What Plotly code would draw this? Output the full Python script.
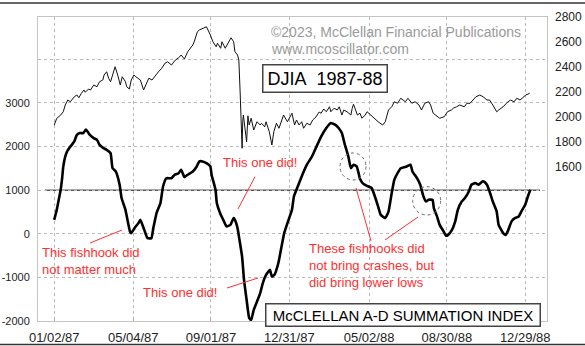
import plotly.graph_objects as go

# ---------------- data ----------------
djia_dates = [
    "1987-01-02", "1987-01-06", "1987-01-12", "1987-01-16", "1987-01-19", "1987-01-23", "1987-01-27",
    "1987-02-02", "1987-02-06", "1987-02-09", "1987-02-13", "1987-02-17", "1987-02-19", "1987-02-24",
    "1987-02-27", "1987-03-04", "1987-03-09", "1987-03-13", "1987-03-18", "1987-03-20", "1987-03-24",
    "1987-03-27", "1987-03-30", "1987-04-03", "1987-04-06", "1987-04-10", "1987-04-14", "1987-04-17",
    "1987-04-22", "1987-04-24", "1987-04-28", "1987-05-01", "1987-05-05", "1987-05-08", "1987-05-15",
    "1987-05-20", "1987-05-26", "1987-05-28", "1987-06-02", "1987-06-08", "1987-06-12", "1987-06-17",
    "1987-06-22", "1987-06-26", "1987-07-02", "1987-07-08", "1987-07-13", "1987-07-17", "1987-07-22",
    "1987-07-27", "1987-07-31", "1987-08-04", "1987-08-07", "1987-08-11", "1987-08-14", "1987-08-20",
    "1987-08-25", "1987-08-31", "1987-09-04", "1987-09-09", "1987-09-11", "1987-09-16", "1987-09-18",
    "1987-09-23", "1987-09-28", "1987-10-02", "1987-10-06", "1987-10-08", "1987-10-12", "1987-10-14",
    "1987-10-16", "1987-10-19", "1987-10-20", "1987-10-21", "1987-10-26", "1987-10-28", "1987-10-30",
    "1987-11-02", "1987-11-06", "1987-11-11", "1987-11-16", "1987-11-18", "1987-11-23", "1987-11-25",
    "1987-11-30", "1987-12-02", "1987-12-04", "1987-12-07", "1987-12-11", "1987-12-15", "1987-12-18",
    "1987-12-22", "1987-12-28", "1987-12-31",
    "1988-01-04", "1988-01-08", "1988-01-11", "1988-01-15", "1988-01-19", "1988-01-22", "1988-01-27",
    "1988-02-01", "1988-02-05", "1988-02-10", "1988-02-15", "1988-02-18", "1988-02-22", "1988-02-26",
    "1988-03-02", "1988-03-04", "1988-03-09", "1988-03-14", "1988-03-17", "1988-03-21", "1988-03-24",
    "1988-03-29", "1988-04-04", "1988-04-06", "1988-04-08", "1988-04-14", "1988-04-18", "1988-04-21",
    "1988-04-26", "1988-04-29", "1988-05-04", "1988-05-09", "1988-05-13", "1988-05-16", "1988-05-23",
    "1988-05-27", "1988-06-01", "1988-06-06", "1988-06-10", "1988-06-15", "1988-06-20", "1988-06-27",
    "1988-07-01", "1988-07-07", "1988-07-12", "1988-07-18", "1988-07-22", "1988-07-27", "1988-08-02",
    "1988-08-05", "1988-08-09", "1988-08-12", "1988-08-19", "1988-08-26", "1988-08-31", "1988-09-06",
    "1988-09-09", "1988-09-14", "1988-09-19", "1988-09-26", "1988-09-30", "1988-10-05", "1988-10-10",
    "1988-10-14", "1988-10-20", "1988-10-25", "1988-10-31", "1988-11-04", "1988-11-09", "1988-11-15",
    "1988-11-18", "1988-11-25", "1988-11-30", "1988-12-06", "1988-12-12", "1988-12-16", "1988-12-21",
    "1988-12-27", "1988-12-30", "1989-01-05",
]
djia_values = [
    1935, 1990, 2016, 2042, 2096, 2136, 2122,
    2162, 2176, 2154, 2190, 2216, 2198, 2224,
    2216, 2256, 2242, 2282, 2296, 2336, 2362,
    2310, 2282, 2362, 2402, 2336, 2256, 2322,
    2282, 2242, 2224, 2296, 2336, 2322, 2296,
    2216, 2282, 2310, 2296, 2342, 2362, 2390,
    2430, 2442, 2416, 2456, 2474, 2496, 2464,
    2522, 2550, 2576, 2616, 2682, 2696, 2710,
    2722, 2656, 2602, 2562, 2590, 2550, 2602,
    2550, 2602, 2634, 2602, 2522, 2496, 2456,
    2200, 1750, 1962, 2016, 1802, 2010, 1936,
    1990, 1896, 1962, 1936, 1950, 1922, 1962,
    1882, 1830, 1776, 1882, 1950, 1910, 1962,
    2016, 1962, 1990,
    2030, 1936, 1976, 1936, 1962, 1910, 1950,
    1936, 1976, 2000, 2040, 2030, 2064, 2042,
    2082, 2042, 2070, 2056, 2082, 2016, 2056,
    2042, 2016, 2070, 2102, 2016, 2030, 1990,
    2016, 2042, 2016, 1990, 1976, 1962, 1936,
    1962, 2056, 2082, 2122, 2110, 2150, 2122,
    2150, 2110, 2122, 2096, 2056, 2110, 2122,
    2096, 2030, 2016, 1990, 2002, 2042, 2056,
    2070, 2082, 2096, 2082, 2110, 2110, 2136,
    2162, 2176, 2162, 2136, 2136, 2096, 2042,
    2056, 2082, 2110, 2136, 2122, 2150, 2136,
    2162, 2176, 2190,
]

si_dates = [
    "1987-01-02", "1987-01-06", "1987-01-09", "1987-01-12", "1987-01-14", "1987-01-16", "1987-01-19",
    "1987-01-22", "1987-01-27", "1987-02-02", "1987-02-06", "1987-02-11", "1987-02-16", "1987-02-20",
    "1987-02-26", "1987-03-04", "1987-03-09", "1987-03-13", "1987-03-19", "1987-03-24", "1987-03-30",
    "1987-04-02", "1987-04-07", "1987-04-13", "1987-04-16", "1987-04-22", "1987-04-24", "1987-04-29",
    "1987-05-01", "1987-05-06", "1987-05-12", "1987-05-15", "1987-05-21", "1987-05-26", "1987-06-01",
    "1987-06-04", "1987-06-09", "1987-06-15", "1987-06-19", "1987-06-24", "1987-07-02", "1987-07-07",
    "1987-07-13", "1987-07-17", "1987-07-22", "1987-07-27", "1987-08-04", "1987-08-10", "1987-08-14",
    "1987-08-19", "1987-08-25", "1987-08-31", "1987-09-02", "1987-09-08", "1987-09-10", "1987-09-15",
    "1987-09-21", "1987-09-25", "1987-10-01", "1987-10-06", "1987-10-08", "1987-10-12", "1987-10-15",
    "1987-10-19", "1987-10-22", "1987-10-26", "1987-10-30", "1987-11-02", "1987-11-06", "1987-11-11",
    "1987-11-16", "1987-11-20", "1987-11-25", "1987-12-01", "1987-12-04", "1987-12-08", "1987-12-14",
    "1987-12-18", "1987-12-23", "1987-12-28",
    "1988-01-04", "1988-01-07", "1988-01-12", "1988-01-19", "1988-01-27", "1988-02-04", "1988-02-11",
    "1988-02-18", "1988-02-26", "1988-03-04", "1988-03-11", "1988-03-16", "1988-03-21", "1988-03-25",
    "1988-03-31", "1988-04-04", "1988-04-08", "1988-04-13", "1988-04-18", "1988-04-22", "1988-04-28",
    "1988-05-06", "1988-05-11", "1988-05-16", "1988-05-20", "1988-05-27", "1988-06-01", "1988-06-06",
    "1988-06-10", "1988-06-15", "1988-06-20", "1988-06-29", "1988-07-05", "1988-07-08", "1988-07-15",
    "1988-07-20", "1988-07-25", "1988-07-29", "1988-08-02", "1988-08-08", "1988-08-10", "1988-08-15",
    "1988-08-19", "1988-08-25", "1988-08-29", "1988-09-01", "1988-09-07", "1988-09-12", "1988-09-16",
    "1988-09-22", "1988-09-27", "1988-10-03", "1988-10-07", "1988-10-13", "1988-10-18", "1988-10-24",
    "1988-10-26", "1988-10-31", "1988-11-04", "1988-11-09", "1988-11-15", "1988-11-18", "1988-11-25",
    "1988-11-29", "1988-12-02", "1988-12-08", "1988-12-13", "1988-12-19", "1988-12-23", "1988-12-29",
    "1989-01-03", "1989-01-06",
]
si_values = [
    320, 550, 780, 1010, 1240, 1540, 1770,
    1890, 2000, 2120, 2270, 2310, 2310, 2390,
    2270, 2195, 2155, 2040, 1965, 1925, 1850,
    1510, 1430, 1125, 820, 550, 400, 50,
    15, 130, 245, 320, 90, -100, -100,
    130, 475, 705, 1085, 1275, 1275, 1355,
    1390, 1470, 1300, 1355, 1430, 1545, 1660,
    1660, 1620, 1545, 1350, 1010, 705, 475,
    285, 170, 205, 360, 320, 130, -140,
    -520, -1055, -1515, -1935, -1975, -1745, -1555,
    -1360, -1130, -940, -825, -980, -940, -670,
    -365, 15, 245,
    550, 855, 1050, 1315, 1585, 1775, 2005,
    2230, 2425, 2540, 2500, 2425, 2310, 2080,
    1775, 1505, 1585, 1545, 1260, 1163, 1105,
    1050, 855, 625, 435, 360, 510, 935,
    1240, 1390, 1505, 1545, 1585, 1430, 1275,
    1125, 855, 740, 780, 780, 590, 395,
    205, 55, -45, -25, 90, 285, 550,
    740, 820, 970, 1125, 1165, 1125, 1200,
    1200, 1125, 970, 740, 510, 205, 15,
    -25, 55, 285, 360, 395, 510, 665,
    895, 1010,
]

tick_dates = ["1987-01-02", "1987-05-04", "1987-09-01", "1987-12-31",
              "1988-05-02", "1988-08-30", "1988-12-29"]
tick_labels = ["01/02/87", "05/04/87", "09/01/87", "12/31/87",
               "05/02/88", "08/30/88", "12/29/88"]
si_ticks = [-2000, -1000, 0, 1000, 2000, 3000, 4000]
si_tick_labels = ["-2000", "-1000", "0", "1000", "2000", "3000", ""]
djia_ticks = [1600, 1800, 2000, 2200, 2400, 2600, 2800]

# ---------------- layout helpers ----------------
W, H = 585, 346
ML, MR, MT, MB = 38, 38, 17, 25
PW, PH = W - ML - MR, H - MT - MB
FONT = "Liberation Sans, Arial, sans-serif"
RED = "#ff3030"


def px(x):
    return (x - ML) / PW


def py(y):
    return (H - MB - y) / PH


fig = go.Figure()

fig.add_trace(go.Scatter(
    x=djia_dates, y=djia_values, yaxis="y2", mode="lines",
    line=dict(color="#111111", width=1), hoverinfo="skip", showlegend=False,
))
fig.add_trace(go.Scatter(
    x=si_dates, y=si_values, yaxis="y", mode="lines",
    line=dict(color="#000000", width=2.6, shape="spline", smoothing=0.4),
    hoverinfo="skip", showlegend=False,
))

shapes = []
# reference line at 1000 on the summation index
shapes.append(dict(type="line", xref="paper", yref="y", x0=px(45), x1=px(540),
                   y0=1000, y1=1000, line=dict(color="#555555", width=1.5), layer="below"))
# outer frame lines
shapes.append(dict(type="line", xref="paper", yref="paper", x0=px(0), x1=px(W),
                   y0=py(3), y1=py(3), line=dict(color="#333333", width=1.5)))
shapes.append(dict(type="line", xref="paper", yref="paper", x0=px(0), x1=px(W),
                   y0=py(344.5), y1=py(344.5), line=dict(color="#333333", width=1.5)))
# red pointer lines
for (x0, y0, x1, y1) in [(238, 209, 255, 176.7), (90, 243, 122, 230), (227, 288, 258, 278),
                         (356, 188, 371, 241), (385, 240, 418, 217)]:
    shapes.append(dict(type="line", xref="paper", yref="paper",
                       x0=px(x0), y0=py(y0), x1=px(x1), y1=py(y1),
                       line=dict(color=RED, width=1)))
# dotted circles around the fishhooks
for (x0, y0, x1, y1) in [(340, 153, 366, 180), (412.7, 186.7, 440.7, 215)]:
    shapes.append(dict(type="circle", xref="paper", yref="paper",
                       x0=px(x0), y0=py(y1), x1=px(x1), y1=py(y0),
                       line=dict(color="#666666", width=1, dash="dot")))

annotations = [
    dict(text="©2023, McClellan Financial Publications", x=px(269), y=py(32),
         xanchor="left", yanchor="middle", font=dict(size=14, color="#9a9a9a", family=FONT)),
    dict(text="www.mcoscillator.com", x=px(269), y=py(49),
         xanchor="left", yanchor="middle", font=dict(size=14, color="#9a9a9a", family=FONT)),
    dict(text="DJIA\u00a0\u00a01987-88", x=px(324.5), y=py(78), xanchor="center", yanchor="middle",
         width=121, height=24, bgcolor="white", bordercolor="#444444", borderwidth=1.5, borderpad=1,
         font=dict(size=18, color="#000000", family=FONT)),
    dict(text="McCLELLAN A-D SUMMATION INDEX", x=px(402.5), y=py(314.5),
         xanchor="center", yanchor="middle",
         width=271, height=19, bgcolor="white", bordercolor="#444444", borderwidth=1.5, borderpad=1,
         font=dict(size=15, color="#000000", family=FONT)),
    dict(text="This one did!", x=px(260), y=py(162), xanchor="center", yanchor="middle",
         font=dict(size=13, color=RED, family=FONT)),
    dict(text="This fishhook did<br>not matter much", x=px(40), y=py(260.5),
         xanchor="left", yanchor="middle", align="left",
         font=dict(size=13, color=RED, family=FONT)),
    dict(text="This one did!", x=px(180), y=py(292), xanchor="center", yanchor="middle",
         font=dict(size=13, color=RED, family=FONT)),
    dict(text="These fishhooks did<br>not bring crashes, but<br>did bring lower lows",
         x=px(307), y=py(265.5), xanchor="left", yanchor="middle", align="left",
         font=dict(size=13, color=RED, family=FONT)),
]
for a in annotations:
    a.update(xref="paper", yref="paper", showarrow=False)

fig.update_layout(
    width=W, height=H,
    margin=dict(l=ML, r=MR, t=MT, b=MB, pad=0, autoexpand=False),
    paper_bgcolor="white", plot_bgcolor="white",
    font=dict(family=FONT, size=12, color="#222222"),
    showlegend=False,
    xaxis=dict(
        type="date", range=["1986-12-08", "1989-01-31 16:00"], automargin=False,
        tickmode="array", tickvals=tick_dates, ticktext=tick_labels,
        showgrid=True, gridcolor="#b8b8b8", griddash="dot", gridwidth=1,
        showline=True, linecolor="#c4c4c4", linewidth=1, mirror=True,
        ticks="inside", ticklen=3, tickcolor="#b0b0b0",
        tickfont=dict(size=13, color="#222222"), zeroline=False,
        ticklabelstandoff=4,
    ),
    yaxis=dict(
        range=[-2000, 4972], tickmode="array", tickvals=si_ticks, ticktext=si_tick_labels,
        automargin=False,
        showgrid=True, gridcolor="#b8b8b8", griddash="dot", gridwidth=1,
        showline=True, linecolor="#c4c4c4", linewidth=1, mirror=True,
        ticks="", zeroline=False, tickfont=dict(size=11, color="#222222"),
        ticklabelstandoff=5,
    ),
    yaxis2=dict(
        overlaying="y", side="right", range=[368, 2800], automargin=False,
        tickmode="array", tickvals=djia_ticks,
        showgrid=False, zeroline=False, showline=False, ticks="",
        tickfont=dict(size=12, color="#222222"), ticklabelstandoff=7,
    ),
    shapes=shapes,
    annotations=annotations,
)

fig.write_html("out.html")
